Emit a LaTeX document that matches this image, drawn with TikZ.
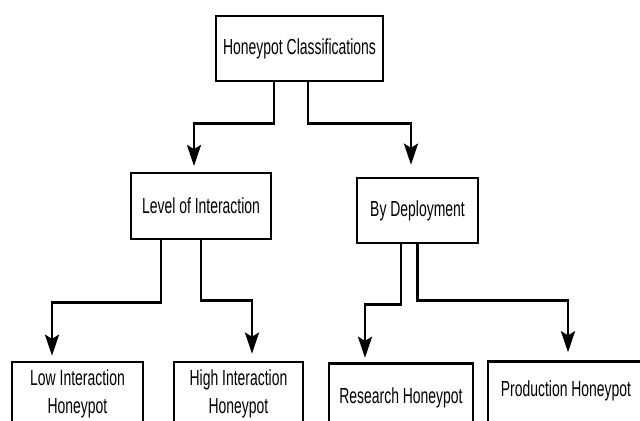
\documentclass[tikz,border=0pt]{standalone}
\usepackage{fontspec}
\newfontfamily\letra{Liberation Sans}[FakeStretch=0.64]
\usetikzlibrary{arrows.meta}

\tikzset{
    caja/.style={draw, line width=1.9pt, align=center, inner sep=0pt,
        font=\letra\fontsize{15.5}{20}\selectfont},
    hoja/.style={caja, anchor=north, text depth=30pt},
    flecha/.style={line width=1.9pt, -{Stealth[length=15pt, width=10pt, inset=3pt]}}
}

\begin{document}
\begin{tikzpicture}[x=0.025cm, y=-0.025cm]

            % Marco de la figura
            \useasboundingbox (0,0) rectangle (640,421);
            \clip (0,0) rectangle (640,421);

            % Raiz
            \node[caja, minimum width=4.175cm, minimum height=1.625cm] (clasif) at (299.5,48.5) {Honeypot Classifications};

            % Segundo nivel
            \node[caja, minimum width=3.5cm, minimum height=1.65cm] (nivel) at (201,206) {Level of Interaction};
            \node[caja, minimum width=3.025cm, minimum height=1.625cm] (despliegue) at (417.5,210.5) {By Deployment};

            % Hojas (cortadas por abajo)
            \node[caja, minimum width=3.275cm, minimum height=1.6cm] (baja) at (77.5,394) {Low Interaction\\Honeypot};
            \node[caja, minimum width=3.225cm, minimum height=1.6cm] (alta) at (238.5,394) {High Interaction\\Honeypot};
            \node[hoja, minimum width=3.6cm, text height=28.5pt] (investig) at (401,362) {Research Honeypot};
            \node[hoja, minimum width=3.9cm, text height=25pt] (produc) at (566,360) {Production Honeypot};

            % Flechas desde la raiz
            \draw[flecha, shorten >=4pt] ([xshift=-0.64cm]clasif.south) -- ++(0,41) -| ([xshift=-0.175cm]nivel.north);
            \draw[flecha, shorten >=8.5pt] ([xshift=0.2125cm]clasif.south) -- ++(0,41) -| ([xshift=-0.1625cm]despliegue.north);

            % Flechas del nivel de interaccion
            \draw[flecha, shorten >=3.5pt] ([xshift=-1cm]nivel.south) -- ++(0,62) -| ([xshift=-0.6375cm]baja.north);
            \draw[flecha, shorten >=5pt] (nivel.south) -- ++(0,60) -| ([xshift=0.3375cm]alta.north);

            % Flechas del despliegue
            \draw[flecha, shorten >=3pt] ([xshift=-0.4125cm]despliegue.south) -- ++(0,60) -| ([xshift=-0.9cm]investig.north);
            \draw[flecha, shorten >=5.5pt] (despliegue.south) -- ++(0,56) -| ([xshift=0.05cm]produc.north);
\end{tikzpicture}
\end{document}
